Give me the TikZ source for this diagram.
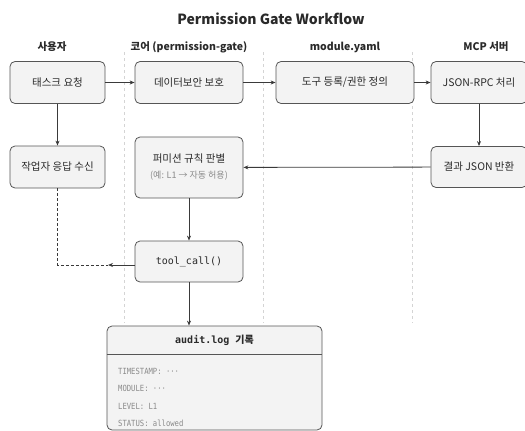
\documentclass[tikz,border=0pt]{standalone}
\usepackage{fontspec}
\setmainfont{Noto Sans CJK KR}
\newfontfamily\cjk{Noto Sans CJK KR}
\setmonofont{DejaVu Sans Mono}
\newfontfamily\logfont{DejaVu Sans Mono}[FakeStretch=0.85]
\usetikzlibrary{arrows.meta}
\definecolor{boxfill}{HTML}{F3F3F3}
\definecolor{boxline}{HTML}{555555}
\definecolor{txt}{HTML}{2A2A2A}
\definecolor{subtxt}{HTML}{8A8A8A}
\definecolor{lanecol}{HTML}{D4D4D4}
\definecolor{arr}{HTML}{3A3A3A}
\tikzset{
  box/.style={draw=boxline, fill=boxfill, rounded corners=5pt, line width=0.8pt,
    text=txt, font=\fontsize{10.5}{13}\selectfont, align=center, inner sep=2pt},
  hdr/.style={font=\bfseries\fontsize{10.5}{12}\selectfont, text=txt},
  lane/.style={draw=lanecol, dashed, dash pattern=on 3pt off 3pt, line width=0.5pt},
  flow/.style={draw=arr, line width=0.8pt, -{Stealth[length=5pt,width=4pt]}},
  logline/.style={anchor=west, font=\logfont\fontsize{8.5}{10}\selectfont, text=subtxt, inner sep=0pt}
}
\begin{document}
\begin{tikzpicture}[x=1pt,y=-1pt]
\useasboundingbox (0,0) rectangle (525,431);
% title and headers
\node[font=\bfseries\fontsize{14}{16}\selectfont, text=txt] (title) at (271,19) {Permission Gate Workflow};
\node[hdr] (h1) at (52,47) {사용자};
\node[hdr] (h2) at (189,47) {코어 (permission-gate)};
\node[hdr] (h3) at (345,47) {module.yaml};
\node[hdr] (h4) at (486,47) {MCP 서버};
% lanes
\coordinate (l1a) at (124,52); \coordinate (l1b) at (124,323);
\coordinate (l2a) at (263,52); \coordinate (l2b) at (263,323);
\coordinate (l3a) at (412,52); \coordinate (l3b) at (412,323);
\draw[lane] (l1a) -- (l1b);
\draw[lane] (l2a) -- (l2b);
\draw[lane] (l3a) -- (l3b);
% boxes
\node[box, minimum width=95pt, minimum height=42pt] (t1) at (57.5,82.5) {태스크 요청};
\node[box, minimum width=108pt, minimum height=42pt] (c1) at (189,82.5) {데이터보안 보호};
\node[box, minimum width=138pt, minimum height=42pt] (m1) at (345,82.5) {도구 등록/권한 정의};
\node[box, minimum width=96pt, minimum height=42pt] (s1) at (479,82.5) {JSON-RPC 처리};
\node[box, minimum width=95pt, minimum height=42pt] (t2) at (57.5,167) {작업자 응답 수신};
\node[box, minimum width=108pt, minimum height=61pt] (c2) at (189,167.5) {퍼미션 규칙 판별\\[3pt]{\fontsize{9}{10}\selectfont\color{subtxt}(예: L1 → 자동 허용)}};
\node[box, minimum width=96pt, minimum height=41pt] (s2) at (479,167) {결과 JSON 반환};
\node[box, minimum width=108pt, minimum height=41pt, font=\ttfamily\fontsize{10}{12}\selectfont] (tool) at (189,261.5) {tool\_call()};
% audit box
\node[box, minimum width=215pt, minimum height=104pt] (audit) at (214.5,378) {};
\draw[draw=boxline, line width=0.8pt] (audit.west |- 0,354) -- (audit.east |- 0,354);
\node[font=\ttfamily\bfseries\fontsize{10}{12}\selectfont, text=txt] (ah) at (214.5,340) {audit.log {\cjk 기록}};
\node[logline] (a1) at (118,371) {TIMESTAMP: ···};
\node[logline] (a2) at (118,388.5) {MODULE: ···};
\node[logline] (a3) at (118,406) {LEVEL: L1};
\node[logline] (a4) at (118,423) {STATUS: allowed};
% connectors
\draw[flow] (t1) -- (c1);
\draw[flow] (c1) -- (m1);
\draw[flow] (m1) -- (s1);
\draw[flow] (t1) -- (t2);
\draw[flow] (s1) -- (s2);
\draw[flow] (s2) -- (c2);
\draw[flow] (c2) -- (tool);
\draw[flow] (tool.south) -- (tool.south |- audit.north);
\coordinate (meet) at (108,265);
\draw[flow] (tool.west |- meet) -- (meet);
\draw[draw=arr, line width=0.7pt, dashed, dash pattern=on 3pt off 2pt] (t2.south) |- (meet);
\end{tikzpicture}
\end{document}
